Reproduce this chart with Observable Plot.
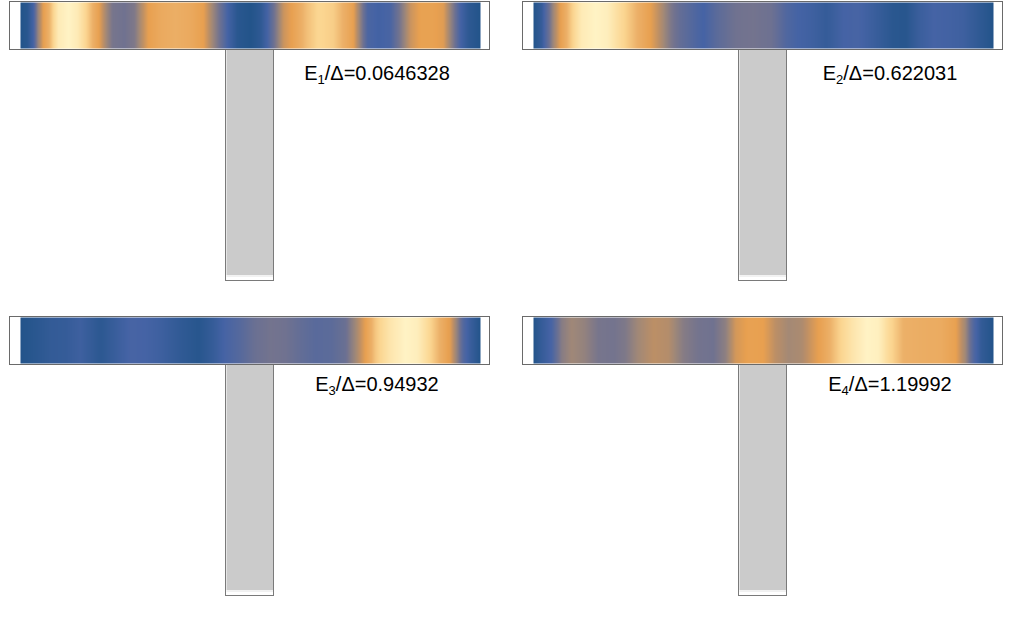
<!DOCTYPE html>
<html><head><meta charset="utf-8">
<script src="https://cdn.jsdelivr.net/npm/d3@7"></script>
<script src="https://cdn.jsdelivr.net/npm/@observablehq/plot@0.6"></script>
<style>
body{margin:0;background:#fff;font-family:"Liberation Sans",Arial,sans-serif}
#wrap{position:relative;width:1013px;height:627px;overflow:hidden}
.panel{position:absolute}
</style></head><body><div id="wrap"></div>
<script>
// State labels
const stateIndex = [1, 2, 3, 4];
const energies = ["0.0646328", "0.622031", "0.94932", "1.19992"];

// Sample positions along the horizontal wire (0 … 460) and normalized density per state
const pos1 = [0,7,13,17,23,30,38,48,57,67,78,86,92,104,114,120,128,140,155,170,183,192,200,207,217,230,240,247,255,263,272,285,298,313,325,333,340,347,358,370,380,390,400,413,423,433,440,448,460];
const val1 = [0,.03,.15,.4,.62,.75,.95,1,.95,.8,.63,.45,.34,.32,.36,.48,.62,.68,.71,.68,.62,.45,.3,.15,.03,0,.05,.15,.35,.55,.63,.75,.83,.8,.7,.62,.4,.18,.14,.17,.35,.55,.63,.63,.6,.35,.15,.05,0];

const pos2 = [0,8,14,20,27,37,48,62,74,87,104,117,127,137,147,160,170,184,202,220,238,252,265,280,293,310,325,342,360,372,385,400,415,430,445,460];
const val2 = [0,.08,.25,.45,.62,.78,.95,1,.97,.85,.72,.62,.5,.36,.27,.2,.15,.24,.32,.33,.31,.2,.15,.12,.08,.15,.16,.1,.03,.02,.1,.15,.14,.12,.06,0];

const pos3 = [0,15,30,45,60,80,95,110,125,140,160,178,192,205,220,235,250,265,280,295,310,325,335,345,355,370,385,397,410,423,430,437,443,450,460];
const val3 = [0,.03,.07,.08,.12,.04,.1,.16,.15,.12,.06,.02,.08,.16,.22,.3,.33,.32,.27,.23,.24,.3,.45,.62,.78,.92,1,.97,.82,.68,.6,.4,.2,.1,0];

const pos4 = [0,8,18,28,38,50,65,80,92,104,120,135,150,165,180,192,202,215,230,242,255,268,280,290,305,320,333,345,355,370,390,408,422,432,440,448,460];
const val4 = [0,.08,.16,.38,.45,.42,.34,.33,.36,.45,.52,.5,.38,.33,.32,.4,.57,.63,.62,.52,.46,.48,.58,.66,.8,.92,1,.98,.85,.72,.7,.69,.63,.45,.2,.07,0];

// Colour map for the density
const cmapStops = [0, .15, .32, .45, .52, .62, .72, .82, 1];
const cmapColors = ["#23548a", "#4563a5", "#707290", "#a08878", "#bc8f66", "#e8a050", "#ecb068", "#fbd590", "#fff3c5"];

// panel layout
const panels = [
  {pos: pos1, val: val1, left: 0, top: 0, labelY: -31},
  {pos: pos2, val: val2, left: 513, top: 0, labelY: -31},
  {pos: pos3, val: val3, left: 0, top: 315, labelY: -27},
  {pos: pos4, val: val4, left: 513, top: 315, labelY: -27}
];

// device geometry (wire length, thickness, stem)
const L = 460, T = 46, stemHalf = 24, stemLen = 231;

const wrap = document.getElementById("wrap");
panels.forEach((p, k) => {
  const pts = [];
  p.pos.forEach((x, i) => { pts.push({x, y: 0, v: p.val[i]}); pts.push({x, y: T, v: p.val[i]}); });
  const c = L / 2;
  const chart = Plot.plot({
    width: 500, height: 300,
    marginLeft: 20, marginRight: 20, marginTop: 0, marginBottom: 2,
    x: {domain: [0, L], axis: null},
    y: {domain: [-250, 48], axis: null},
    color: {type: "linear", domain: cmapStops, range: cmapColors},
    style: {fontFamily: "'Liberation Sans', Arial, sans-serif", background: "white"},
    marks: [
      Plot.rect([0], {x1: c - stemHalf + 0.5, x2: c + stemHalf - 0.5, y1: -227, y2: -1, fill: "#cbcbcb"}),
      Plot.ruleY([-227.5], {x1: c - stemHalf + 0.5, x2: c + stemHalf - 0.5, stroke: "#e4e4e4"}),
      Plot.rect([0], {x1: c - stemHalf - 0.5, x2: c + stemHalf - 0.5, y1: -stemLen - 1.5, y2: -1.5, fill: "none", stroke: "#7a7a7a"}),
      Plot.raster(pts, {x: "x", y: "y", fill: "v", x1: 0, x2: L, y1: 0, y2: T, interpolate: "barycentric"}),
      Plot.rect([0], {x1: -10.5, x2: L + 9.5, y1: -1.5, y2: T + 0.5, fill: "none", stroke: "#6a6a6a"}),
      Plot.text([`E${stateIndex[k]}/Δ=${energies[k]}`], {x: c + 126.5, y: p.labelY, text: d => d, textAnchor: "middle", lineAnchor: "bottom", fontSize: 20, fill: "black"})
    ]
  });
  // subscript for the state index
  chart.querySelectorAll("text").forEach(t => {
    const s = t.textContent;
    const m = s.match(/^E(\d)(.*)$/);
    if (!m) return;
    t.textContent = "";
    const ns = "http://www.w3.org/2000/svg";
    const parts = [
      ["E", {}],
      [m[1], {"font-size": 13, dy: 4}],
      [m[2], {dy: -4}]
    ];
    parts.forEach(([txt, attrs]) => {
      const ts = document.createElementNS(ns, "tspan");
      ts.textContent = txt;
      for (const a in attrs) ts.setAttribute(a, attrs[a]);
      t.appendChild(ts);
    });
  });
  const div = document.createElement("div");
  div.className = "panel";
  div.style.left = p.left + "px"; div.style.top = p.top + "px";
  div.appendChild(chart);
  wrap.appendChild(div);
});
</script></body></html>
